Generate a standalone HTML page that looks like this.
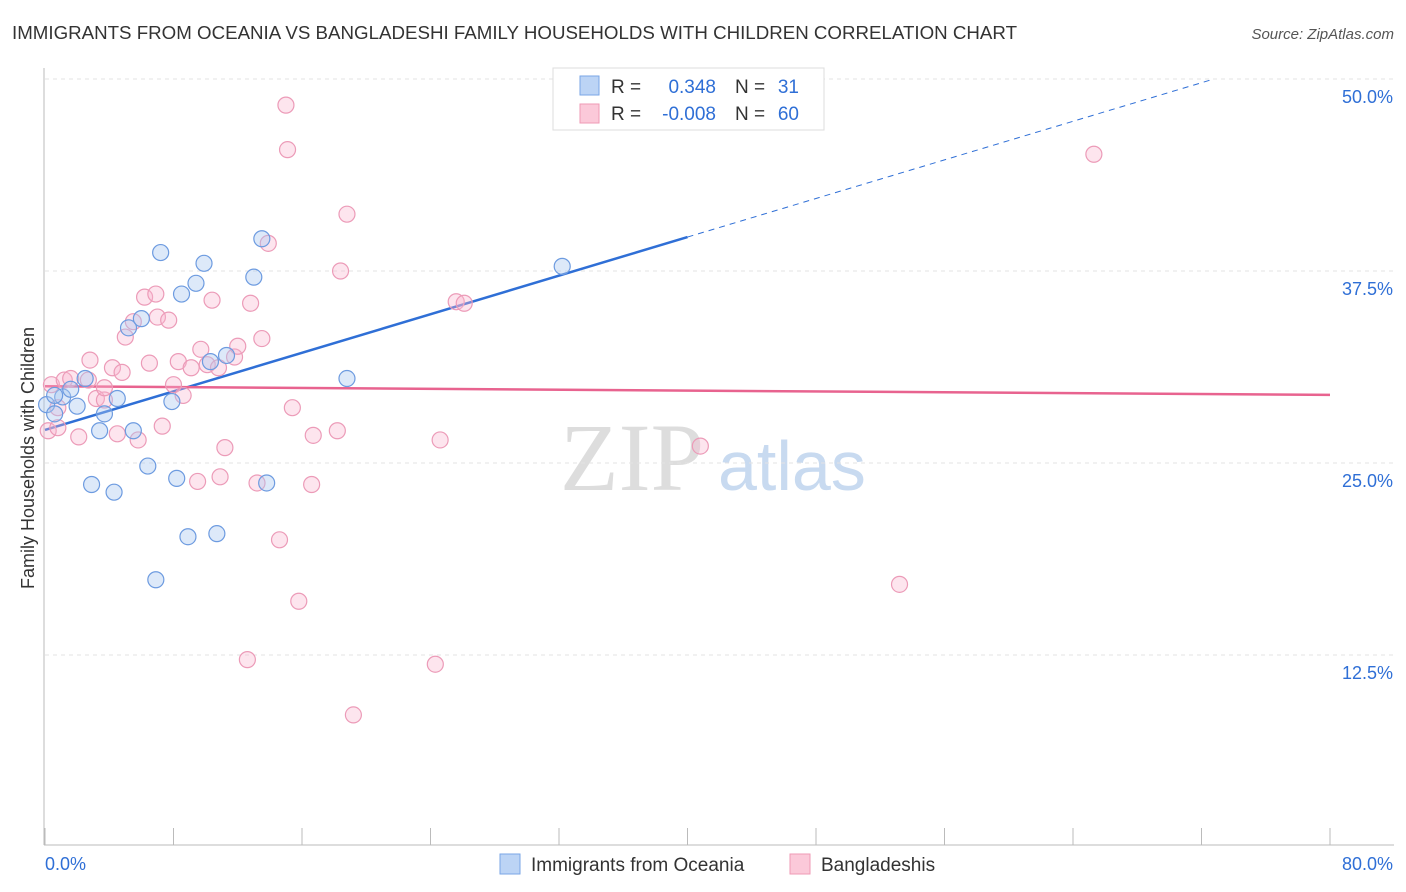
<!DOCTYPE html>
<html><head><meta charset="utf-8"><style>
body{margin:0;background:#fff;font-family:"Liberation Sans",sans-serif;}
svg{display:block}
</style></head><body>
<svg id="c" width="1406" height="892">
<text x="12" y="39" font-size="18" fill="#333" textLength="1005" lengthAdjust="spacingAndGlyphs">IMMIGRANTS FROM OCEANIA VS BANGLADESHI FAMILY HOUSEHOLDS WITH CHILDREN CORRELATION CHART</text>
<text x="1394" y="39" font-size="15" fill="#555" font-style="italic" text-anchor="end">Source: ZipAtlas.com</text>
<text x="560" y="490" font-size="96" fill="#ddd" font-family="Liberation Serif">ZIP</text>
<text x="718" y="490" font-size="70" fill="#c8daf0">atlas</text>
<g id="grid"></g><g id="axes"></g><g id="lines"></g><g id="pts"></g>
<text transform="translate(34,458) rotate(-90)" font-size="18" fill="#333" text-anchor="middle">Family Households with Children</text>
<g>
<rect x="553" y="68" width="271" height="62" fill="#fff" stroke="#ddd"/>
<rect x="580" y="76" width="19" height="19" fill="#bcd4f5" stroke="#7aa6e6"/>
<rect x="580" y="104" width="19" height="19" fill="#fbc9d9" stroke="#ef9ab5"/>
<text x="611" y="93" font-size="19" fill="#333">R =</text>
<text x="716" y="93" font-size="19" fill="#2f6fd6" text-anchor="end">0.348</text>
<text x="735" y="93" font-size="19" fill="#333">N =</text>
<text x="799" y="93" font-size="19" fill="#2f6fd6" text-anchor="end">31</text>
<text x="611" y="120" font-size="19" fill="#333">R =</text>
<text x="716" y="120" font-size="19" fill="#2f6fd6" text-anchor="end">-0.008</text>
<text x="735" y="120" font-size="19" fill="#333">N =</text>
<text x="799" y="120" font-size="19" fill="#2f6fd6" text-anchor="end">60</text>
</g>
<g>
<rect x="500" y="854" width="20" height="20" fill="#bcd4f5" stroke="#7aa6e6"/>
<text x="531" y="871" font-size="19" fill="#333">Immigrants from Oceania</text>
<rect x="790" y="854" width="20" height="20" fill="#fbc9d9" stroke="#ef9ab5"/>
<text x="821" y="871" font-size="19" fill="#333">Bangladeshis</text>
</g>
</svg>
<script>
const yTicks=[12.5,25,37.5,50];
const yTickLabels=["12.5%","25.0%","37.5%","50.0%"];
const xTickLabels=["0.0%","80.0%"];
const blueX=[0.1,0.6,1.1,1.6,2.0,2.5,3.4,3.7,4.5,5.5,6.4,2.9,4.3,5.2,6.0,7.2,7.9,8.2,8.5,8.9,9.4,9.9,10.3,10.7,11.3,13.0,13.5,13.8,18.8,32.2,6.9,0.6];
const blueY=[28.8,28.2,29.3,29.8,28.7,30.5,27.1,28.2,29.2,27.1,24.8,23.6,23.1,33.8,34.4,38.7,29.0,24.0,36.0,20.2,36.7,38.0,31.6,20.4,32.0,37.1,39.6,23.7,30.5,37.8,17.4,29.4];
const pinkX=[0.2,0.4,0.8,1.2,1.6,2.1,2.7,2.8,3.2,3.7,4.2,4.5,4.8,5.0,5.5,5.8,6.2,6.5,6.9,7.0,7.3,7.7,8.0,8.3,8.6,9.1,9.5,9.7,10.1,10.4,10.9,11.2,11.8,12.0,12.6,12.8,13.2,13.5,13.9,14.6,15.0,15.1,15.4,15.8,16.6,16.7,18.2,18.4,18.8,19.2,24.3,24.6,25.6,26.1,40.8,53.2,65.3,10.8,3.7,0.8];
const pinkY=[27.1,30.1,28.6,30.4,30.5,26.7,30.4,31.7,29.2,29.1,31.2,26.9,30.9,33.2,34.2,26.5,35.8,31.5,36.0,34.5,27.4,34.3,30.1,31.6,29.4,31.2,23.8,32.4,31.4,35.6,24.1,26.0,31.9,32.6,12.2,35.4,23.7,33.1,39.3,20.0,48.3,45.4,28.6,16.0,23.6,26.8,27.1,37.5,41.2,8.6,11.9,26.5,35.5,35.4,26.1,17.1,45.1,31.2,29.9,27.3];
const blueTrend=[27.15,0.314];
const pinkTrend=[30.0,-0.0071];
const X=v=>45+v*(1285/80), Y=v=>847-v*(768/50);
const NS="http://www.w3.org/2000/svg";
function mk(p,t,a){const e=document.createElementNS(NS,t);for(const k in a)e.setAttribute(k,a[k]);document.getElementById(p).appendChild(e);return e;}
yTicks.forEach((t,i)=>{
 const g=mk('grid','line',{x1:45,x2:1394,y1:Y(t),y2:Y(t),stroke:'#e3e3e3','stroke-dasharray':'4,4'});
 
 
 const l=mk('axes','text',{x:1393,y:Y(t)+24,'font-size':18,fill:'#2f6fd6','text-anchor':'end'});
 l.textContent=yTickLabels[i];
 
 
});
const ax=mk('axes','line',{x1:44,x2:44,y1:68,y2:845,stroke:'#bbb'});


const bx=mk('axes','line',{x1:44,x2:1394,y1:845,y2:845,stroke:'#bbb'});


for(let i=0;i<=10;i++){const t=mk('axes','line',{x1:X(i*8),x2:X(i*8),y1:828,y2:845,stroke:'#bbb'});
 
 }
const xl0=mk('axes','text',{x:45,y:870,'font-size':18,fill:'#2f6fd6'});xl0.textContent=xTickLabels[0];


const xl1=mk('axes','text',{x:1393,y:870,'font-size':18,fill:'#2f6fd6','text-anchor':'end'});xl1.textContent=xTickLabels[1];


const [ba,bb]=blueTrend,[pa,pb]=pinkTrend;
pinkX.forEach((x,i)=>{const c=mk('pts','circle',{cx:X(x),cy:Y(pinkY[i]),r:8,fill:'rgba(248,180,205,0.35)',stroke:'#ec9bb8','stroke-width':1.2});
 
 });
blueX.forEach((x,i)=>{const c=mk('pts','circle',{cx:X(x),cy:Y(blueY[i]),r:8,fill:'rgba(170,200,240,0.4)',stroke:'#6d9be0','stroke-width':1.2});
 
 });
const l1=mk('lines','line',{x1:X(0),y1:Y(ba),x2:X(40),y2:Y(ba+bb*40),stroke:'#2f6fd6','stroke-width':2.5});


const xe=Math.min((50-ba)/bb,80);
const l2=mk('lines','line',{x1:X(40),y1:Y(ba+bb*40),x2:X(xe),y2:Y(ba+bb*xe),stroke:'#2f6fd6','stroke-width':1,'stroke-dasharray':'6,5'});


const l3=mk('lines','line',{x1:X(0),y1:Y(pa),x2:X(80),y2:Y(pa+pb*80),stroke:'#e8638f','stroke-width':2.5});


</script>
</body></html>
